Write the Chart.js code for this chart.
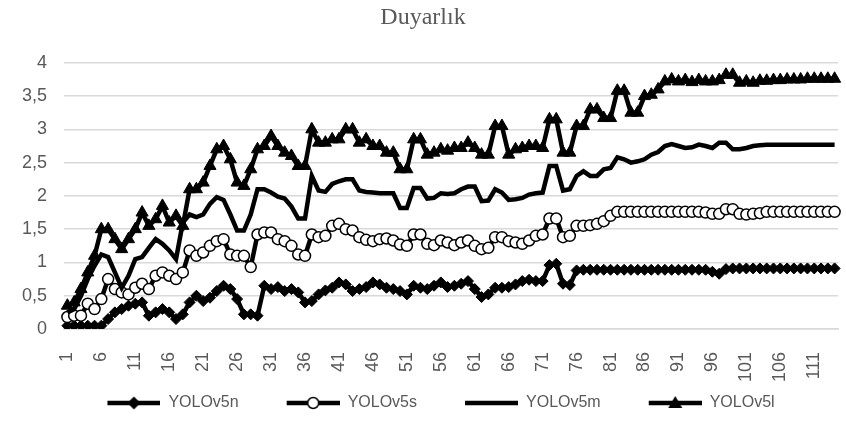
<!DOCTYPE html>
<html>
<head>
<meta charset="utf-8">
<title>Duyarlık</title>
<script src="https://cdn.jsdelivr.net/npm/chart.js@4.4.0/dist/chart.umd.min.js"></script>
<style>
  html, body { margin: 0; padding: 0; background: #fff; }
  #wrap { width: 846px; height: 432px; }
</style>
</head>
<body>
<div id="wrap"><canvas id="chart" width="846" height="432"></canvas></div>
<script>
// epochs 1..114
const categories = Array.from({ length: 114 }, (_, i) => String(i + 1));

const yolov5n = [
    0.05, 0.05, 0.05, 0.05, 0.05, 0.05, 0.15, 0.25, 0.3, 0.35,
    0.38, 0.4, 0.2, 0.25, 0.3, 0.25, 0.15, 0.22, 0.4, 0.5,
    0.42, 0.47, 0.57, 0.65, 0.6, 0.45, 0.22, 0.22, 0.2, 0.65,
    0.6, 0.63, 0.57, 0.6, 0.55, 0.4, 0.42, 0.52, 0.58, 0.62,
    0.7, 0.67, 0.57, 0.6, 0.63, 0.7, 0.67, 0.62, 0.6, 0.57,
    0.52, 0.65, 0.62, 0.6, 0.65, 0.7, 0.63, 0.65, 0.68, 0.72,
    0.6, 0.48, 0.52, 0.62, 0.62, 0.63, 0.67, 0.72, 0.74, 0.72,
    0.72, 0.96, 0.98, 0.68, 0.66, 0.88, 0.89, 0.89, 0.89, 0.89,
    0.89, 0.89, 0.89, 0.89, 0.89, 0.89, 0.89, 0.89, 0.89, 0.89,
    0.89, 0.89, 0.89, 0.89, 0.89, 0.86, 0.83, 0.9, 0.91, 0.91,
    0.91, 0.91, 0.91, 0.91, 0.91, 0.91, 0.91, 0.91, 0.91, 0.91,
    0.91, 0.91, 0.91, 0.91
];

const yolov5s = [
    0.18, 0.2, 0.2, 0.38, 0.3, 0.45, 0.75, 0.6, 0.55, 0.52,
    0.62, 0.68, 0.6, 0.8, 0.85, 0.8, 0.75, 0.85, 1.18, 1.1,
    1.15, 1.25, 1.32, 1.35, 1.12, 1.1, 1.1, 0.93, 1.42, 1.45,
    1.45, 1.35, 1.32, 1.25, 1.12, 1.1, 1.42, 1.38, 1.4, 1.55,
    1.58, 1.5, 1.48, 1.38, 1.34, 1.32, 1.35, 1.36, 1.33, 1.27,
    1.25, 1.42, 1.42, 1.28, 1.26, 1.33, 1.3, 1.26, 1.3, 1.33,
    1.25, 1.2, 1.22, 1.38, 1.38, 1.32, 1.3, 1.28, 1.33, 1.4,
    1.42, 1.66, 1.66, 1.38, 1.4, 1.55, 1.55, 1.56, 1.58, 1.62,
    1.7, 1.76, 1.76, 1.76, 1.76, 1.76, 1.76, 1.76, 1.76, 1.76,
    1.76, 1.76, 1.76, 1.76, 1.75, 1.73, 1.73, 1.8, 1.8, 1.73,
    1.72, 1.73, 1.74, 1.76, 1.76, 1.76, 1.76, 1.76, 1.76, 1.76,
    1.76, 1.76, 1.76, 1.76
];

const yolov5m = [
    0.25, 0.3, 0.5, 0.75, 0.95, 1.12, 1.08, 0.85, 0.62, 0.8,
    1.05, 1.08, 1.22, 1.35, 1.28, 1.18, 1.05, 1.6, 1.72, 1.68,
    1.72, 1.88, 1.98, 1.94, 1.72, 1.48, 1.48, 1.72, 2.1, 2.1,
    2.05, 1.99, 1.96, 1.84, 1.66, 1.66, 2.3, 2.08, 2.06, 2.18,
    2.22, 2.25, 2.25, 2.08, 2.06, 2.05, 2.04, 2.04, 2.04, 1.82,
    1.82, 2.12, 2.12, 1.96, 1.97, 2.04, 2.03, 2.04, 2.1, 2.14,
    2.14, 1.92, 1.93, 2.1, 2.05, 1.94, 1.95, 1.97, 2.02, 2.04,
    2.05, 2.45, 2.45, 2.08, 2.1, 2.3, 2.37, 2.3, 2.3, 2.4,
    2.42, 2.58, 2.55, 2.5, 2.52, 2.55, 2.62, 2.66, 2.75, 2.78,
    2.75, 2.72, 2.73, 2.77, 2.75, 2.72, 2.8, 2.8, 2.7, 2.7,
    2.72, 2.75, 2.76, 2.77, 2.77, 2.77, 2.77, 2.77, 2.77, 2.77,
    2.77, 2.77, 2.77, 2.77
];

const yolov5l = [
    0.35, 0.4, 0.6, 0.85, 1.1, 1.5, 1.5, 1.35, 1.2, 1.35,
    1.5, 1.75, 1.55, 1.65, 1.85, 1.6, 1.7, 1.55, 2.1, 2.1,
    2.2, 2.45, 2.7, 2.75, 2.55, 2.2, 2.15, 2.4, 2.7, 2.75,
    2.9, 2.75, 2.65, 2.6, 2.45, 2.45, 3.0, 2.8, 2.8, 2.85,
    2.85, 3.0, 3.0, 2.8, 2.85, 2.75, 2.75, 2.65, 2.65, 2.4,
    2.4, 2.85, 2.85, 2.62, 2.65, 2.7, 2.68, 2.72, 2.72, 2.8,
    2.72, 2.62, 2.62, 3.05, 3.05, 2.62, 2.7, 2.72, 2.75, 2.75,
    2.72, 3.15, 3.15, 2.65, 2.65, 3.05, 3.05, 3.3, 3.3, 3.17,
    3.17, 3.58, 3.58, 3.25, 3.25, 3.5, 3.52, 3.6, 3.72, 3.75,
    3.72, 3.74, 3.71, 3.74, 3.72, 3.72, 3.74, 3.82, 3.82, 3.7,
    3.72, 3.7, 3.73, 3.73, 3.74, 3.74, 3.75, 3.75, 3.75, 3.76,
    3.76, 3.76, 3.76, 3.76
];

const seriesNames = ['YOLOv5n', 'YOLOv5s', 'YOLOv5m', 'YOLOv5l'];
const yTicks = [0, 0.5, 1, 1.5, 2, 2.5, 3, 3.5, 4];

const TEXT = '#595959';
const GRID = '#d9d9d9';

// marker drawn over a short line, used as legend symbol
function legendIcon(marker) {
    const c = document.createElement('canvas');
    c.width = 89;
    c.height = 16;
    const g = c.getContext('2d');
    g.strokeStyle = '#000';
    g.lineWidth = 4.5;
    g.beginPath();
    g.moveTo(36, 8);
    g.lineTo(89, 8);
    g.stroke();
    const cx = 62.5, cy = 8;
    g.fillStyle = '#000';
    if (marker === 'rectRot') {
        g.beginPath();
        g.moveTo(cx, cy - 6.5); g.lineTo(cx + 6.5, cy); g.lineTo(cx, cy + 6.5); g.lineTo(cx - 6.5, cy);
        g.closePath();
        g.fill();
    } else if (marker === 'circle') {
        g.beginPath();
        g.arc(cx, cy, 5.5, 0, Math.PI * 2);
        g.fillStyle = '#fff';
        g.fill();
        g.lineWidth = 1.5;
        g.stroke();
    } else if (marker === 'triangle') {
        g.beginPath();
        g.moveTo(cx, cy - 7); g.lineTo(cx + 7, cy + 5); g.lineTo(cx - 7, cy + 5);
        g.closePath();
        g.fill();
    }
    return c;
}

const markers = ['rectRot', 'circle', false, 'triangle'];
const icons = markers.map(m => legendIcon(m));

function makeDataset(i, values, opts) {
    return Object.assign({
        label: seriesNames[i],
        data: values,
        borderColor: '#000',
        borderWidth: 4.5,
        tension: 0,
        pointStyle: markers[i],
        pointRadius: markers[i] ? 5.5 : 0,
        pointBorderColor: '#000',
        pointBackgroundColor: '#000',
        pointBorderWidth: 1,
        order: 4 - i
    }, opts || {});
}

const datasets = [
    makeDataset(0, yolov5n, { pointRadius: 5.5 }),
    makeDataset(1, yolov5s, { pointBackgroundColor: '#fff', pointBorderWidth: 1.5, pointRadius: 5.5 }),
    makeDataset(2, yolov5m),
    makeDataset(3, yolov5l, { pointRadius: 7 })
];

new Chart(document.getElementById('chart'), {
    type: 'line',
    data: { labels: categories, datasets },
    options: {
        responsive: false,
        animation: false,
        layout: { padding: { left: 0, right: 0, top: 0, bottom: 11 } },
        plugins: {
            title: {
                display: true,
                text: 'Duyarlık',
                color: TEXT,
                font: { family: 'Liberation Serif', size: 24, weight: 'normal' },
                padding: { top: 3, bottom: 31 }
            },
            legend: {
                position: 'bottom',
                labels: {
                    usePointStyle: true,
                    pointStyleWidth: 89,
                    padding: 12,
                    color: TEXT,
                    font: { family: 'Liberation Sans', size: 16 },
                    sort: (a, b) => a.datasetIndex - b.datasetIndex,
                    generateLabels: chart => Chart.defaults.plugins.legend.labels.generateLabels(chart)
                        .map(item => Object.assign(item, { pointStyle: icons[item.datasetIndex] }))
                }
            },
            tooltip: { enabled: false }
        },
        scales: {
            x: {
                offset: true,
                grid: { display: false },
                border: { color: GRID, width: 1.5 },
                ticks: {
                    autoSkip: false,
                    minRotation: 90,
                    maxRotation: 90,
                    padding: 15,
                    color: TEXT,
                    font: { family: 'Liberation Sans', size: 18 },
                    callback: function (value, index) {
                        return index % 5 === 0 ? this.getLabelForValue(value) : '';
                    }
                },
                afterFit: s => {
                    s.height = 54;
                    // tick padding would otherwise eat into the right side
                    s.paddingLeft = 0;
                    s.paddingRight = 2;
                }
            },
            y: {
                min: 0,
                max: 4,
                grid: { color: GRID, lineWidth: 1.5, drawTicks: false },
                border: { display: false },
                afterBuildTicks: s => { s.ticks = yTicks.map(v => ({ value: v })); },
                ticks: {
                    padding: 17,
                    color: TEXT,
                    font: { family: 'Liberation Sans', size: 18 },
                    callback: v => String(v).replace('.', ',')
                },
                afterFit: s => { s.width = 64; }
            }
        }
    }
});
</script>
</body>
</html>
